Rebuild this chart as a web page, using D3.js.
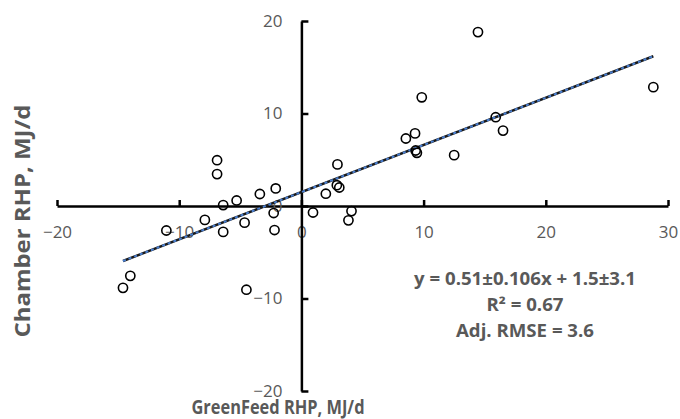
<!DOCTYPE html>
<html>
<head>
<meta charset="utf-8">
<script src="https://cdn.jsdelivr.net/npm/d3@7"></script>
<style>
  body { margin: 0; background: #fff; }
  svg { display: block; }
</style>
</head>
<body>
<div id="chart"></div>
<script>
// values
var greenfeed = [-6.9, -6.9, -6.4, -5.3, -3.4, -2.1, -2.27, -7.9, -6.4, -4.65, -2.2,
  0.95, 2.0, 2.95, 2.9, 3.1, 4.1, 3.85, -11.05, -14.0, -14.6, -4.5,
  14.45, 9.85, 28.8, 15.9, 16.5, 8.55, 9.3, 9.35, 9.45, 12.5];
var chamber = [4.95, 3.45, 0.1, 0.6, 1.3, 1.9, -0.76, -1.5, -2.8, -1.8, -2.6,
  -0.7, 1.33, 4.5, 2.25, 2.0, -0.55, -1.55, -2.65, -7.55, -8.85, -9.05,
  18.8, 11.75, 12.85, 9.6, 8.15, 7.3, 7.85, 6.0, 5.75, 5.5];
var xTicks = [-20, -10, 0, 10, 20, 30];
var yTicks = [-20, -10, 0, 10, 20];
var slope = 0.51, intercept = 1.5;
var statLines = ['y = 0.51±0.106x + 1.5±3.1', 'R² = 0.67', 'Adj. RMSE = 3.6'];

var width = 680, height = 419;
var grey = '#595959';
var font = "'Open Sans', sans-serif";

var svg = d3.select('#chart').append('svg')
  .attr('width', width)
  .attr('height', height);

var x = d3.scaleLinear().domain([-20, 30]).range([57, 668]);
var y = d3.scaleLinear().domain([-20, 20]).range([391, 21]);

// x axis, ticks pointing up, crossing at y = 0
var xAxis = svg.append('g')
  .attr('transform', 'translate(0,' + y(0) + ')')
  .call(d3.axisBottom(x).tickValues(xTicks).tickSizeInner(-6).tickSizeOuter(0).tickPadding(20));

// y axis, ticks pointing right, crossing at x = 0
var yAxis = svg.append('g')
  .attr('transform', 'translate(' + x(0) + ',0)')
  .call(d3.axisLeft(y).tickValues(yTicks).tickSizeInner(-7).tickSizeOuter(0).tickPadding(19));

[xAxis, yAxis].forEach(function (g) {
  g.select('.domain').attr('stroke', '#000').attr('stroke-width', 2.5);
  g.selectAll('.tick line').attr('stroke', '#000').attr('stroke-width', 2.5);
  g.selectAll('.tick text')
    .attr('fill', grey)
    .style('font-family', font)
    .style('font-size', '17px');
});
yAxis.selectAll('.tick text').attr('dy', '0.3em');

// trend line
var ext = d3.extent(greenfeed);
var trend = d3.line()
  .x(function (d) { return x(d); })
  .y(function (d) { return y(slope * d + intercept); });

svg.append('path')
  .datum(ext)
  .attr('d', trend)
  .attr('fill', 'none')
  .attr('stroke', '#1a1a1a')
  .attr('stroke-width', 2.5);

svg.append('path')
  .datum(ext)
  .attr('d', trend)
  .attr('fill', 'none')
  .attr('stroke', '#4a7fd0')
  .attr('stroke-width', 2)
  .attr('stroke-dasharray', '3,3');

// points
svg.selectAll('.dot')
  .data(d3.range(greenfeed.length))
  .enter()
  .append('circle')
  .attr('class', 'dot')
  .attr('cx', function (i) { return x(greenfeed[i]); })
  .attr('cy', function (i) { return y(chamber[i]); })
  .attr('r', 4.6)
  .attr('fill', 'none')
  .attr('stroke', '#000')
  .attr('stroke-width', 1.6);

// axis titles
svg.append('text')
  .attr('x', 278)
  .attr('y', 414)
  .attr('text-anchor', 'middle')
  .attr('fill', grey)
  .attr('font-weight', 'bold')
  .attr('textLength', 173)
  .attr('lengthAdjust', 'spacingAndGlyphs')
  .style('font-family', font)
  .style('font-size', '19px')
  .text('GreenFeed RHP, MJ/d');

svg.append('text')
  .attr('transform', 'translate(30,221) rotate(-90)')
  .attr('text-anchor', 'middle')
  .attr('fill', grey)
  .attr('font-weight', 'bold')
  .attr('textLength', 233)
  .attr('lengthAdjust', 'spacingAndGlyphs')
  .style('font-family', font)
  .style('font-size', '21px')
  .text('Chamber RHP, MJ/d');

// regression stats
var statWidths = [222, 77, 138];
svg.selectAll('.stat')
  .data(statLines)
  .enter()
  .append('text')
  .attr('class', 'stat')
  .attr('x', 525)
  .attr('y', function (d, i) { return 285 + i * 26; })
  .attr('text-anchor', 'middle')
  .attr('fill', grey)
  .attr('font-weight', 'bold')
  .attr('textLength', function (d, i) { return statWidths[i]; })
  .attr('lengthAdjust', 'spacingAndGlyphs')
  .style('font-family', font)
  .style('font-size', '17px')
  .text(function (d) { return d; });
</script>
</body>
</html>
